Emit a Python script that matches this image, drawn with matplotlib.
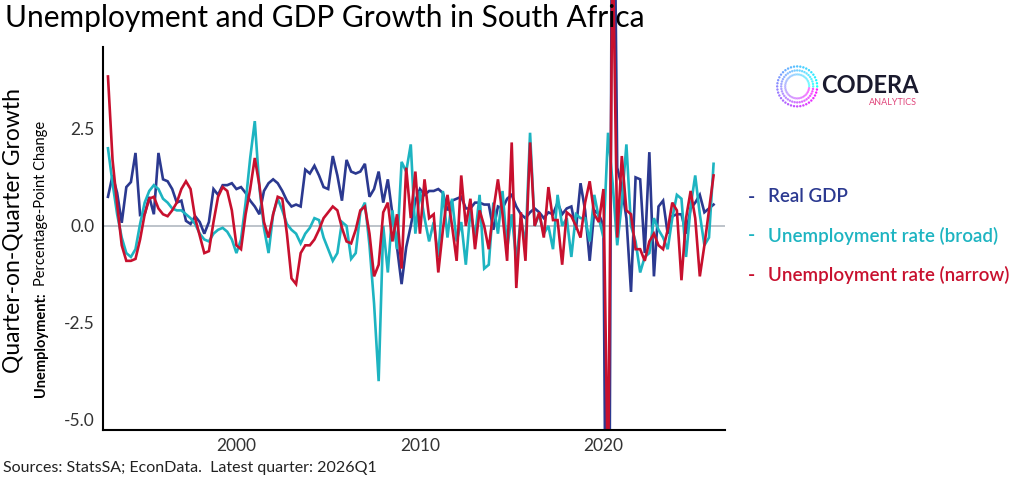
import numpy as np
import matplotlib
matplotlib.use("Agg")
import matplotlib.pyplot as plt

# quarterly q/q changes, 1993Q1 .. 2026Q1
gdp = [0.75, 1.3, 0.85, 0.08, 1.0, 1.13, 1.88, 0.28, 0.3, 0.75,
       0.3, 1.88, 1.2, 1.15, 0.95, 0.6, 0.65, 0.13, 0.05, 0.25,
       0.1, -0.2, 0.1, 0.95, 0.8, 1.05, 1.05, 1.1, 0.95, 1.0,
       0.85, 0.65, 0.5, 0.3, 0.9, 1.1, 1.2, 1.1, 0.9, 0.65,
       0.5, 0.55, 0.5, 1.45, 1.35, 1.55, 1.3,
       1.0, 0.95, 1.8, 1.3, 0.65, 1.7, 1.4, 1.35, 1.4, 1.6,
       0.75, 0.95, 1.4, 0.6, 1.2, 0.3, -0.55, -1.5, -0.55, 0.0,
       0.65, 0.95, 0.8, 0.9, 0.9, 0.95, 0.85, 0.4, 0.65, 0.7,
       0.75, 0.45, 0.45, 0.6, 0.6, 0.55, 0.55, -0.1, 0.5, 0.45, 0.7,
       0.8, 0.5, 0.3, 0.2, 0.35, 0.45, 0.35, 0.2, 0.35, 0.3,
       0.6, 0.3, 0.45, 0.5, -0.1, 1.1, 0.4, -0.9, 0.4, 0.3, 0.0,
       -17.0, 13.5,
       1.5, 1.0, 0.2, -1.7, 1.25, 1.2, -0.7, 1.9, -1.3, 0.5,
       0.65, -0.2, 0.25, 0.3, 0.3, -0.2, 0.45, 0.6, 0.8, 0.35, 0.45, 0.55]

broad = [2.0, 1.1, 0.3, -0.3, -0.7, -0.8, -0.6, 0.05, 0.6, 0.9,
         1.05, 0.95, 0.7, 0.6, 0.45, 0.4, 0.4, 0.3, 0.2, 0.05,
         -0.2, -0.35, -0.4, -0.2, -0.1, -0.05, -0.15, -0.35, -0.7, -0.35,
         0.6, 1.75, 2.7, 1.0, -0.05, -0.7, 0.3, 0.7, 0.4, 0.05,
         -0.1, -0.2, -0.45, -0.2, -0.05, 0.2, 0.15,
         -0.3, -0.6, -0.9, -0.7, 0.1, 0.0, -0.85, -0.7, 0.35, 0.6,
         -0.5, -2.0, -4.0, 0.0, -1.2, 0.4, -0.6, 1.65, 1.4, 2.1,
         -0.2, 0.9, 0.2, -0.4, 0.1, -0.8, 0.9, -0.3, 0.7, -0.4,
         0.1, -1.0, 0.4, -0.3, 0.8, -1.1, -1.0, 0.6, -0.2, 0.9, -0.6,
         0.3, -0.9, 0.2, -0.5, 2.4, 0.0, 0.3, -0.2, 0.0, -0.6,
         0.8, 0.0, 0.2, -0.8, 0.3, 0.2, 0.2, -0.4, 0.8, 0.2, -0.3,
         2.4, 1.1,
         -0.5, 0.6, 2.1, 0.0, -0.4, -1.2, -0.8, -0.7, 0.2, -0.1,
         -0.3, -0.6, 0.2, 0.8, 0.7, -0.8, 0.5, 1.3, 0.3, -0.5, -0.3, 1.6]

narrow = [3.85, 1.7, 0.55, -0.5, -0.9, -0.9, -0.85, -0.35, 0.3, 0.7,
          0.75, 0.45, 0.3, 0.25, 0.4, 0.6, 0.95, 1.15, 0.95, 0.2,
          -0.25, -0.7, -0.65, 0.1, 0.75, 1.0, 0.9, 0.4, -0.5, -0.6,
          0.3, 0.95, 1.75, 1.05, 0.1, -0.3, 0.3, 0.75, 0.7, -0.2,
          -1.35, -1.5, -0.7, -0.5, -0.5, -0.35, -0.1,
          0.2, 0.35, 0.5, 0.4, -0.05, -0.4, -0.45, -0.1, 0.4, 0.5,
          -0.2, -1.3, -1.0, 0.35, 0.6, -0.4, 0.3, -1.1, 1.5, 0.2,
          1.4, -0.2, 1.2, 0.2, 0.3, -1.2, -0.1, 0.8, 0.0, -0.9,
          1.3, 0.0, 0.7, -0.6, 0.4, 0.0, -0.6, 0.4, 1.2, 0.3, -0.9,
          2.15, -1.6, 0.35, -0.9, 2.15, 0.0, 0.35, -0.3, 1.0, 0.15,
          0.15, -1.0, 0.35, 0.25, 0.0, -0.3, 0.6, 1.15, 0.3, 0.1, 0.95,
          -6.8, 7.5,
          -0.3, 1.8, 0.4, 0.3, -0.6, -0.6, -0.9, -0.4, -0.2, -0.5,
          -0.6, -0.1, 0.6, 0.4, -1.4, 0.2, 0.9, 0.2, -1.3, -0.5, 0.4, 1.3]

series = [("Real GDP", gdp, "#2b3990"),
          ("Unemployment rate (broad)", broad, "#1db4c1"),
          ("Unemployment rate (narrow)", narrow, "#c8102e")]
year_ticks = [2000, 2010, 2020]
y_ticks = [-5.0, -2.5, 0.0, 2.5]

plt.rcParams["font.family"] = ["Lato", "DejaVu Sans"]
fig = plt.figure(figsize=(10.24, 4.8), dpi=100)
ax = fig.add_axes([0.1006, 0.104, 0.607, 0.896])

for name, vals, col in series:
    x = 1993 + np.arange(len(vals)) / 4
    ax.plot(x, vals, color=col, lw=1.9, solid_joinstyle="miter")
ax.axhline(0, color="#b8bec6", lw=1.3, zorder=0)

ax.set_xlim(1992.73, 2026.6)
ax.set_ylim(-5.26, 5.82)
ax.set_xticks(year_ticks)
ax.set_yticks(y_ticks)
ax.set_yticklabels([f"{v:.1f}" for v in y_ticks])
ax.tick_params(length=0, labelsize=12.5, colors="#333333", pad=6)
for s in ["top", "right"]:
    ax.spines[s].set_visible(False)
ax.spines["left"].set_bounds(-5.26, 4.6)
ax.spines["bottom"].set_linewidth(1.5)
ax.spines["left"].set_linewidth(1.5)

fig.text(0.005, 0.962, "Unemployment and GDP Growth in South Africa",
         fontsize=21.5, va="center", ha="left")
fig.text(0.013, 0.52, "Quarter-on-Quarter Growth", rotation=90,
         fontsize=16.5, va="center", ha="center")
fig.text(0.040, 1 - 397 / 480, "Unemployment:", rotation=90, rotation_mode="anchor",
         fontsize=10.5, fontweight="bold", va="center", ha="left")
fig.text(0.040, 1 - 286 / 480, "Percentage-Point Change", rotation=90,
         rotation_mode="anchor", fontsize=10.5, va="center", ha="left")
fig.text(0.003, 0.025, "Sources: StatsSA; EconData.  Latest quarter: 2026Q1",
         fontsize=11.5, va="center", ha="left", color="#222222")

for i, (name, vals, col) in enumerate(series):
    y = 1 - (197 + 39 * i) / 480
    fig.text(0.730, y, "-", color=col, fontsize=14, fontweight="bold", va="center")
    fig.text(0.750, y, name, color=col, fontsize=13.5, fontweight="semibold", va="center")

# logo
lax = fig.add_axes([0.755, 0.77, 0.047, 0.1])
ang = np.linspace(0, 2 * np.pi, 40, endpoint=False)
for r, a in [(1.0, 0.9), (0.8, 0.7), (0.6, 0.5)]:
    cols = plt.cm.cool(np.linspace(0, 1, len(ang)))
    lax.scatter(r * np.cos(ang), r * np.sin(ang), s=3, c=cols, alpha=a, lw=0)
lax.set_xlim(-1.2, 1.2)
lax.set_ylim(-1.2, 1.2)
lax.set_aspect("equal")
lax.axis("off")
fig.text(0.802, 0.822, "CODERA", fontsize=17, fontweight="bold",
         color="#1a1a2e", va="center", ha="left")
fig.text(0.895, 0.787, "ANALYTICS", fontsize=6.5, color="#e0457b",
         va="center", ha="right")

fig.savefig("out.png", dpi=100)
